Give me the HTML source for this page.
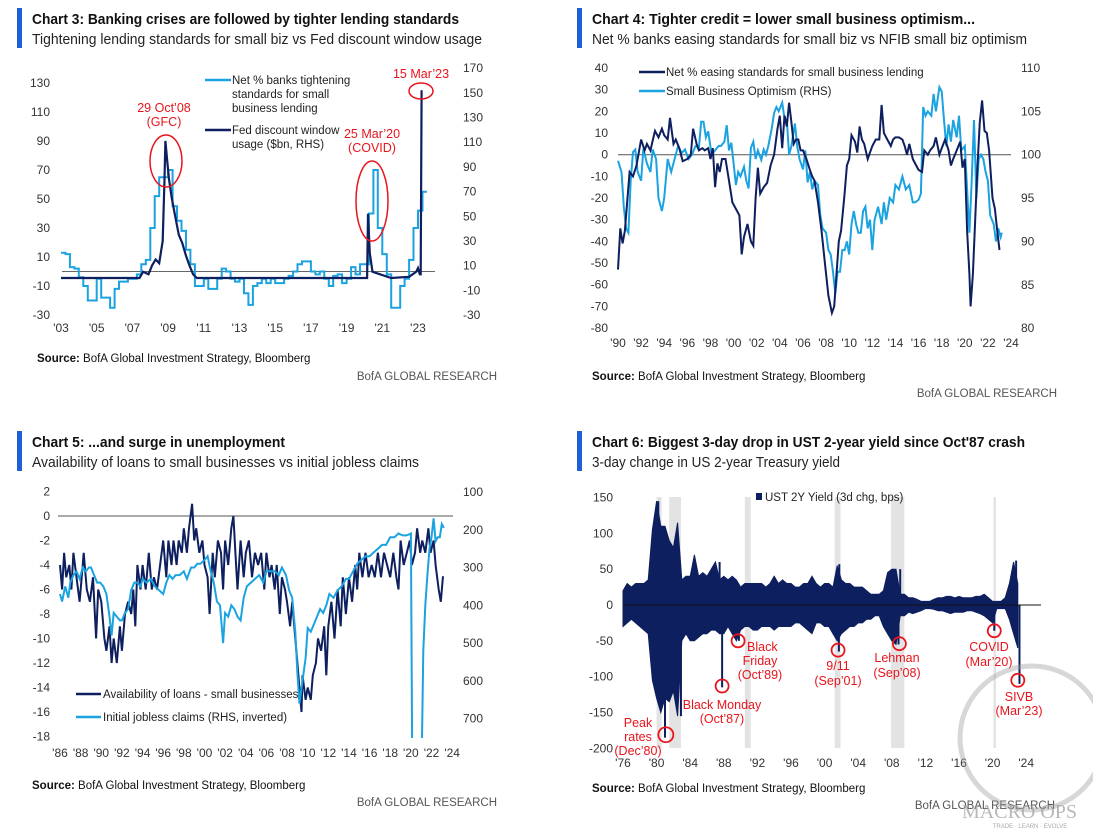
<!DOCTYPE html>
<html><head><meta charset="utf-8"><title>BofA charts 3-6</title>
<style>
html,body{margin:0;padding:0;background:#fff;}
svg{display:block;font-family:"Liberation Sans Narrow","Liberation Sans",sans-serif;}
</style></head>
<body>
<svg id="chart" width="1093" height="830" viewBox="0 0 1093 830" xmlns="http://www.w3.org/2000/svg">
<defs>
<clipPath id="clip3"><rect x="55" y="55" width="400" height="265"/></clipPath>
<clipPath id="clip4"><rect x="612" y="60" width="405" height="275"/></clipPath>
<clipPath id="clip5"><rect x="55" y="484" width="402" height="254"/></clipPath>
</defs>
<rect x="0" y="0" width="1093" height="830" fill="#fff"/>

<rect x="17" y="8" width="5" height="40" fill="#1f5fd6"/>
<text x="32" y="24" font-size="15" font-weight="bold" fill="#111" textLength="427" lengthAdjust="spacingAndGlyphs">Chart 3: Banking crises are followed by tighter lending standards</text>
<text x="32" y="44" font-size="15" fill="#222" textLength="450" lengthAdjust="spacingAndGlyphs">Tightening lending standards for small biz vs Fed discount window usage</text>
<text x="37" y="362" font-size="11.5" fill="#111"><tspan font-weight="bold">Source:</tspan> BofA Global Investment Strategy, Bloomberg</text>
<text x="497" y="380" font-size="11.5" fill="#555" text-anchor="end">BofA GLOBAL RESEARCH</text>

<rect x="577" y="8" width="5" height="40" fill="#1f5fd6"/>
<text x="592" y="24" font-size="15" font-weight="bold" fill="#111" textLength="383" lengthAdjust="spacingAndGlyphs">Chart 4: Tighter credit = lower small business optimism...</text>
<text x="592" y="44" font-size="15" fill="#222" textLength="435" lengthAdjust="spacingAndGlyphs">Net % banks easing standards for small biz vs NFIB small biz optimism</text>
<text x="592" y="380" font-size="11.5" fill="#111"><tspan font-weight="bold">Source:</tspan> BofA Global Investment Strategy, Bloomberg</text>
<text x="1057" y="397" font-size="11.5" fill="#555" text-anchor="end">BofA GLOBAL RESEARCH</text>

<rect x="17" y="431" width="5" height="40" fill="#1f5fd6"/>
<text x="32" y="447" font-size="15" font-weight="bold" fill="#111" textLength="253" lengthAdjust="spacingAndGlyphs">Chart 5: ...and surge in unemployment</text>
<text x="32" y="467" font-size="15" fill="#222" textLength="387" lengthAdjust="spacingAndGlyphs">Availability of loans to small businesses vs initial jobless claims</text>
<text x="32" y="789" font-size="11.5" fill="#111"><tspan font-weight="bold">Source:</tspan> BofA Global Investment Strategy, Bloomberg</text>
<text x="497" y="806" font-size="11.5" fill="#555" text-anchor="end">BofA GLOBAL RESEARCH</text>

<rect x="577" y="431" width="5" height="40" fill="#1f5fd6"/>
<text x="592" y="447" font-size="15" font-weight="bold" fill="#111" textLength="433" lengthAdjust="spacingAndGlyphs">Chart 6: Biggest 3-day drop in UST 2-year yield since Oct'87 crash</text>
<text x="592" y="467" font-size="15" fill="#222" textLength="248" lengthAdjust="spacingAndGlyphs">3-day change in US 2-year Treasury yield</text>
<text x="592" y="792" font-size="11.5" fill="#111"><tspan font-weight="bold">Source:</tspan> BofA Global Investment Strategy, Bloomberg</text>
<text x="1055" y="809" font-size="11.5" fill="#555" text-anchor="end">BofA GLOBAL RESEARCH</text>

<g id="layer"></g>
</svg>
<script>
// ---------------- DATA: Chart 3 ----------------
const c3LightStart = 2003;
const c3LightQuarterly = [13,12,3,2, -4,-10,-20,-20, -5,-18,-18,-25, -12,-7,-7,-5, -5,-2,5,8, 30,52,65,65, 70,45,35,28, 15,5,-10,-10, -5,-12,-12,-5, 2,0,-5,-7, -5,-15,-23,-10, -8,-5,-8,-5, -8,-8,-5,-3, 0,5,7,7, 0,-2,0,-5, -10,-3,-2,-8, -5,3,-2,5, 5,40,70,30, 12,-2,-25,-25, -10,-5,8,30, 42,55];
const c3DarkYears = [2003,2007.4,2007.6,2007.9,2008.1,2008.3,2008.5,2008.7,2008.8,2008.85,2008.95,2009.05,2009.2,2009.4,2009.6,2009.8,2010.0,2010.2,2010.4,2010.6,2020.15,2020.2,2020.3,2020.45,2021.5,2022.5,2022.9,2023.0,2023.1,2023.15,2023.2];
const c3DarkVals = [0,0,5,3,10,15,12,30,80,111,95,80,65,50,35,28,18,10,3,0,0,52,20,5,0,1,5,8,3,3,152];
const c3LeftTicks = [130,110,90,70,50,30,10,-10,-30];
const c3RightTicks = [170,150,130,110,90,70,50,30,10,-10,-30];
const c3XTickYears = [2003,2005,2007,2009,2011,2013,2015,2017,2019,2021,2023];
const c3XTickLabels = ["'03","'05","'07","'09","'11","'13","'15","'17","'19","'21","'23"];

// ---------------- DATA: Chart 4 ----------------
const c4DarkYears = [1990.0,1990.2,1990.4,1990.6,1991.0,1991.3,1991.6,1992.0,1992.3,1992.5,1992.8,1993.2,1993.5,1993.8,1994.0,1994.3,1994.5,1994.8,1995.0,1995.3,1995.6,1996.0,1996.3,1996.5,1996.8,1997.0,1997.3,1997.5,1997.8,1998.0,1998.2,1998.4,1998.6,1998.8,1999.0,1999.3,1999.6,1999.9,2000.2,2000.5,2000.7,2000.9,2001.2,2001.5,2001.7,2001.9,2002.1,2002.3,2002.6,2002.9,2003.2,2003.5,2003.8,2004.0,2004.2,2004.4,2004.6,2004.8,2005.0,2005.2,2005.4,2005.6,2005.8,2006.0,2006.3,2006.6,2006.8,2007.0,2007.3,2007.6,2007.9,2008.2,2008.5,2008.7,2008.9,2009.1,2009.3,2009.6,2009.8,2010.0,2010.2,2010.5,2010.7,2010.9,2011.1,2011.3,2011.6,2011.8,2012.0,2012.3,2012.6,2012.8,2013.0,2013.3,2013.6,2013.8,2014.0,2014.3,2014.6,2014.8,2015.0,2015.2,2015.5,2015.8,2016.0,2016.3,2016.5,2016.8,2017.0,2017.3,2017.5,2017.8,2018.0,2018.3,2018.6,2018.8,2019.0,2019.3,2019.6,2019.8,2020.0,2020.2,2020.4,2020.5,2020.7,2020.9,2021.1,2021.3,2021.5,2021.7,2021.9,2022.1,2022.4,2022.6,2022.8,2023.0];
const c4DarkVals = [-53,-34,-41,-35,-8,-10,-5,7,2,5,2,11,8,12,9,7,17,5,7,3,-3,-2,0,12,5,2,3,2,3,-2,3,-15,-4,-8,-2,-2,-12,-22,-25,-28,-46,-38,-32,-40,-42,-20,-6,-18,-15,-13,-5,0,12,18,3,18,13,24,15,5,7,7,2,2,-2,-7,-10,-12,-22,-35,-50,-65,-73,-70,-55,-40,-35,-18,-5,-2,9,6,1,13,7,5,-2,1,4,7,7,23,10,7,4,7,8,8,7,4,0,5,-2,-5,-7,-8,2,0,2,4,8,0,3,7,2,-5,-2,2,6,-6,-2,-35,-55,-70,-55,-30,-5,15,25,11,10,2,-20,-25,-35,-44];
const c4LightYears = [1990.0,1990.3,1990.5,1990.7,1990.9,1991.1,1991.3,1991.5,1991.7,1992.0,1992.2,1992.5,1992.8,1993.0,1993.3,1993.5,1993.8,1994.0,1994.3,1994.6,1994.9,1995.2,1995.5,1995.8,1996.1,1996.4,1996.7,1997.0,1997.2,1997.4,1997.6,1997.8,1998.1,1998.4,1998.7,1998.9,1999.2,1999.4,1999.6,1999.8,2000.0,2000.2,2000.4,2000.6,2000.9,2001.1,2001.3,2001.5,2001.7,2001.9,2002.1,2002.4,2002.6,2002.8,2003.0,2003.3,2003.5,2003.7,2003.9,2004.2,2004.4,2004.6,2004.8,2005.0,2005.3,2005.5,2005.7,2006.0,2006.2,2006.4,2006.6,2006.8,2007.0,2007.3,2007.5,2007.7,2008.0,2008.2,2008.4,2008.6,2008.8,2009.0,2009.2,2009.4,2009.6,2009.8,2010.0,2010.2,2010.4,2010.6,2010.8,2011.0,2011.2,2011.4,2011.6,2011.8,2012.0,2012.2,2012.5,2012.8,2013.0,2013.2,2013.5,2013.8,2014.0,2014.3,2014.6,2014.9,2015.2,2015.5,2015.7,2016.0,2016.2,2016.4,2016.6,2016.8,2017.1,2017.3,2017.5,2017.8,2018.0,2018.2,2018.4,2018.6,2018.8,2019.0,2019.3,2019.5,2019.7,2020.0,2020.2,2020.4,2020.6,2020.8,2021.0,2021.2,2021.4,2021.6,2021.8,2022.0,2022.2,2022.5,2022.7,2022.9,2023.1,2023.2];
const c4LightVals = [99.3,98,94,91.5,91,97,100.3,100.6,98,97,100.7,99,98,100.6,99.5,95,93.5,95,99.5,98,99.5,101,100.2,100.6,99.5,100,101,100.8,103.8,103.8,102,102.7,100,100.5,101,101,101.5,103.4,100.5,101.4,99,96.5,98,97.5,98.6,97,96.1,100.8,101.5,99.5,100.5,99.4,100.6,100,101,103,104.8,105.5,105,106,104.2,104,100,101,103.6,101,99.5,98.3,100.5,96.8,98,96,97,96.5,93,91.5,91,89,88.5,86.5,84,86.5,86.5,89,89,90,88.5,92,93.5,92,91,91,93.5,94,91.5,92.5,89,92.5,94,92,94.5,92.5,95,94.5,96.5,96,97.5,96,96.5,94.5,94.5,94.8,95.5,105.5,104.5,105,104.5,107,105,107.8,107.3,104,101,103.5,101.5,104,102,104.5,100.5,101,96,91,97,104,95,99.5,100,99.5,98,97,93,92,90,91.5,90.5,91];
const c4LeftTicks = [40,30,20,10,0,-10,-20,-30,-40,-50,-60,-70,-80];
const c4RightTicks = [110,105,100,95,90,85,80];
const c4XTickYears = [1990,1992,1994,1996,1998,2000,2002,2004,2006,2008,2010,2012,2014,2016,2018,2020,2022,2024];
const c4XTickLabels = ["'90","'92","'94","'96","'98","'00","'02","'04","'06","'08","'10","'12","'14","'16","'18","'20","'22","'24"];

// ---------------- DATA: Chart 5 ----------------
const c5DarkYears = [1986.0,1986.2,1986.4,1986.6,1986.9,1987.1,1987.3,1987.6,1987.9,1988.1,1988.3,1988.6,1988.9,1989.2,1989.5,1989.7,1990.0,1990.3,1990.5,1990.8,1991.0,1991.2,1991.5,1991.8,1992.0,1992.3,1992.6,1992.9,1993.1,1993.3,1993.5,1993.8,1994.0,1994.3,1994.6,1994.9,1995.1,1995.4,1995.7,1996.0,1996.3,1996.5,1996.8,1997.0,1997.3,1997.5,1997.8,1998.0,1998.3,1998.5,1998.8,1999.0,1999.2,1999.5,1999.8,2000.0,2000.3,2000.5,2000.8,2001.0,2001.3,2001.6,2001.8,2002.0,2002.3,2002.6,2002.8,2003.0,2003.2,2003.5,2003.8,2004.0,2004.3,2004.6,2004.9,2005.2,2005.5,2005.8,2006.0,2006.3,2006.5,2006.8,2007.0,2007.3,2007.5,2007.8,2008.0,2008.3,2008.5,2008.8,2009.0,2009.2,2009.4,2009.5,2009.8,2010.0,2010.3,2010.5,2010.8,2011.0,2011.3,2011.6,2011.8,2012.0,2012.3,2012.6,2012.9,2013.2,2013.4,2013.7,2014.0,2014.3,2014.6,2014.8,2015.0,2015.3,2015.6,2015.9,2016.2,2016.5,2016.8,2017.1,2017.4,2017.7,2018.0,2018.3,2018.6,2018.8,2019.0,2019.3,2019.6,2019.9,2020.1,2020.4,2020.6,2020.9,2021.1,2021.4,2021.7,2021.9,2022.2,2022.4,2022.7,2022.9,2023.1,2023.2];
const c5DarkVals = [-4,-6,-3,-5,-4,-6,-3,-5,-7,-5,-3,-6,-7,-5,-10,-6,-7,-10,-11,-9,-12,-10,-12,-9,-11,-8,-7,-8,-6,-9,-4,-6,-4,-6,-3,-6,-5,-6,-4,-2,-5,-2,-4,-2,-4,-2,-3,-1,-3,-1,1,-2,-1,-3,-2,-4,-5,-8,-3,-5,-2,-3,-6,-2,-4,-1,0,-3,-6,-2,-5,-3,-2,-5,-3,-4,-3,-6,-3,-5,-4,-6,-4,-8,-5,-6,-7,-9,-7,-10,-12,-14,-16,-13,-15,-14,-15,-13,-12,-10,-11,-9,-13,-9,-7,-10,-6,-9,-5,-8,-5,-7,-4,-6,-3,-5,-3,-5,-4,-5,-3,-5,-3,-4,-5,-3,-5,-6,-2,-4,-3,-2,-4,-3,-1,-3,-2,-3,-1,-3,-2,-4,-6,-7,-5,-5];
const c5LightYears = [1986.0,1986.2,1986.5,1986.8,1987.0,1987.3,1987.6,1987.9,1988.2,1988.5,1988.8,1989.0,1989.3,1989.6,1989.9,1990.2,1990.5,1990.8,1991.0,1991.2,1991.5,1991.8,1992.0,1992.3,1992.6,1992.9,1993.2,1993.5,1993.8,1994.0,1994.4,1994.8,1995.2,1995.6,1996.0,1996.3,1996.6,1996.9,1997.2,1997.6,1998.0,1998.3,1998.7,1999.0,1999.3,1999.6,2000.0,2000.3,2000.6,2000.9,2001.2,2001.5,2001.8,2002.0,2002.3,2002.6,2002.9,2003.2,2003.5,2003.8,2004.1,2004.5,2004.9,2005.3,2005.7,2006.0,2006.4,2006.8,2007.2,2007.5,2007.9,2008.2,2008.5,2008.8,2009.0,2009.2,2009.5,2009.8,2010.0,2010.3,2010.6,2010.9,2011.2,2011.5,2011.8,2012.1,2012.5,2012.9,2013.3,2013.7,2014.0,2014.4,2014.8,2015.2,2015.6,2016.0,2016.4,2016.8,2017.2,2017.6,2018.0,2018.4,2018.8,2019.2,2019.6,2020.0,2020.15,2020.6,2021.0,2021.2,2021.4,2021.6,2021.8,2022.0,2022.2,2022.4,2022.6,2022.8,2023.0,2023.2];
const c5LightVals = [370,390,350,380,340,320,310,330,300,310,300,300,320,340,340,350,370,430,480,420,430,440,440,420,410,360,340,340,350,330,340,330,350,360,370,340,320,330,320,320,310,330,300,300,290,290,280,270,310,340,390,400,500,420,430,400,410,430,440,380,350,340,330,320,340,310,310,310,320,300,320,360,380,470,580,660,600,540,460,470,450,430,410,420,400,370,380,360,350,330,330,310,290,280,270,270,260,250,240,240,220,220,210,215,215,210,900,900,900,520,400,320,250,220,170,230,220,220,185,195];
const c5LeftTicks = [2,0,-2,-4,-6,-8,-10,-12,-14,-16,-18];
const c5RightTicks = [100,200,300,400,500,600,700];
const c5XTickYears = [1986,1988,1990,1992,1994,1996,1998,2000,2002,2004,2006,2008,2010,2012,2014,2016,2018,2020,2022,2024];
const c5XTickLabels = ["'86","'88","'90","'92","'94","'96","'98","'00","'02","'04","'06","'08","'10","'12","'14","'16","'18","'20","'22","'24"];

// ---------------- DATA: Chart 6 ----------------
const c6Start = 1976;
const c6HalfHigh = [20,30,25,30,30,30,35,105,145,110,110,90,80,115,35,40,40,70,40,45,40,50,60,35,40,35,40,35,25,30,30,30,30,30,25,30,40,30,35,30,30,25,25,30,30,40,30,25,30,30,25,55,35,30,30,25,25,25,20,15,15,15,20,45,50,50,15,15,10,10,8,5,5,5,8,10,10,12,12,10,12,10,10,10,12,12,15,10,5,5,5,10,30,60,30];
const c6HalfLow = [-30,-25,-20,-25,-30,-35,-40,-105,-130,-150,-130,-135,-120,-155,-50,-40,-50,-50,-45,-40,-40,-35,-35,-40,-40,-30,-40,-50,-35,-30,-30,-35,-35,-30,-30,-30,-35,-30,-30,-30,-30,-25,-25,-30,-35,-40,-25,-25,-30,-30,-40,-50,-40,-35,-30,-30,-25,-25,-20,-20,-15,-15,-30,-40,-50,-55,-15,-15,-10,-12,-10,-8,-5,-5,-6,-8,-8,-10,-12,-10,-10,-10,-8,-8,-10,-12,-15,-20,-25,-5,-5,-5,-20,-40,-60];
const c6SpikeYears = [1980.2,1981.0,1982.9,1987.8,1987.5,1989.8,2001.7,2001.75,2008.8,2009.0,2020.2,2022.8,2023.2];
const c6SpikeVals = [145,-185,-155,-115,60,-50,-65,57,-55,50,-36,62,-110];
const c6BandStart = [1980.0,1981.5,1990.5,2001.2,2007.9,2020.1];
const c6BandEnd = [1980.6,1982.9,1991.2,2001.9,2009.5,2020.4];
const c6EventYears = [1981.1,1987.8,1989.7,2001.6,2008.9,2020.2,2023.0];
const c6EventVals = [-181,-113,-50,-63,-54,-36,-105];
const c6Ticks = [150,100,50,0,-50,-100,-150,-200];
const c6XTickYears = [1976,1980,1984,1988,1992,1996,2000,2004,2008,2012,2016,2020,2024];
const c6XTickLabels = ["'76","'80","'84","'88","'92","'96","'00","'04","'08","'12","'16","'20","'24"];

// ---------------- helpers ----------------
const NS = 'http://www.w3.org/2000/svg';
const layer = document.getElementById('layer');
const DARK = '#0d1f5e', LIGHT = '#1aa3e0', RED = '#e8141c', TICK = '#333';
function mk(tag, attrs, parent) {
  const e = document.createElementNS(NS, tag);
  for (const k in attrs) e.setAttribute(k, attrs[k]);
  (parent || layer).appendChild(e);
  return e;
}
function tx(x, y, s, size, anchor, fill, parent) {
  const t = mk('text', {x: x, y: y, 'font-size': size, 'text-anchor': anchor || 'start', fill: fill || TICK}, parent);
  t.textContent = s;
  return t;
}
function pts(xs, ys, fx, fy) { return xs.map((v, i) => fx(v).toFixed(1) + ',' + fy(ys[i]).toFixed(1)).join(' '); }

// ---------------- Chart 3 ----------------
const x3 = yr => 61 + (yr - 2003) * 17.85;
const yL3 = v => 271.5 - v * 1.45;
const yR3 = v => 278 - v * 1.235;
const g3 = mk('g', {});


c3LeftTicks.forEach(v => {
  const t = tx(50, yL3(v) + 4, String(v), 12, 'end', TICK, g3);
  
  
});
c3RightTicks.forEach(v => {
  const t = tx(463, yR3(v) + 4, String(v), 12, 'start', TICK, g3);
  
  
});
c3XTickYears.forEach((yr, i) => {
  const t = tx(x3(yr), 332, c3XTickLabels[i], 12, 'middle', TICK, g3);
  
  
});
const z3 = mk('line', {x1: 62, x2: 435, y1: yL3(0), y2: yL3(0), stroke: '#666', 'stroke-width': 1}, g3);


(function () {
  let d = '';
  c3LightQuarterly.forEach((v, i) => {
    const xa = x3(c3LightStart + i * 0.25), xb = x3(c3LightStart + (i + 1) * 0.25);
    d += (i === 0 ? 'M' : 'L') + xa.toFixed(1) + ',' + yL3(v).toFixed(1) + ' L' + xb.toFixed(1) + ',' + yL3(v).toFixed(1) + ' ';
  });
  const p = mk('path', {d: d, fill: 'none', stroke: LIGHT, 'stroke-width': 2, 'clip-path': 'url(#clip3)'}, g3);
  
  
})();
const d3 = mk('polyline', {points: pts(c3DarkYears, c3DarkVals, x3, yR3), fill: 'none', stroke: DARK, 'stroke-width': 2.2, 'clip-path': 'url(#clip3)'}, g3);


const l3a = mk('line', {x1: 205, x2: 231, y1: 80, y2: 80, stroke: LIGHT, 'stroke-width': 2.5}, g3);


[['Net % banks tightening', 84], ['standards for small', 98], ['business lending', 112]].forEach(a => {
  const t = tx(232, a[1], a[0], 11.5, 'start', '#222', g3);
  
  
});
const l3b = mk('line', {x1: 205, x2: 231, y1: 130, y2: 130, stroke: DARK, 'stroke-width': 2.5}, g3);


[['Fed discount window', 134], ['usage ($bn, RHS)', 148]].forEach(a => {
  const t = tx(232, a[1], a[0], 11.5, 'start', '#222', g3);
  
  
});
[['29 Oct\u201908', 164, 112], ['(GFC)', 164, 126], ['25 Mar\u201920', 372, 138], ['(COVID)', 372, 152], ['15 Mar\u201923', 421, 78]].forEach(a => {
  const t = tx(a[1], a[2], a[0], 12.5, 'middle', RED, g3);
  
  
});
[[166, 161, 16, 26], [372, 201, 16, 40], [421, 91, 12, 8]].forEach(a => {
  const e = mk('ellipse', {cx: a[0], cy: a[1], rx: a[2], ry: a[3], fill: 'none', stroke: RED, 'stroke-width': 1.5}, g3);
  
  
});

// ---------------- Chart 4 ----------------
const x4 = yr => 618 + (yr - 1990) * 11.56;
const yL4 = v => 154.7 - v * 2.167;
const yR4 = v => 154.7 - (v - 100) * 8.67;
const g4 = mk('g', {});


c4LeftTicks.forEach(v => {
  const t = tx(608, yL4(v) + 4, String(v), 12, 'end', TICK, g4);
  
  
});
c4RightTicks.forEach(v => {
  const t = tx(1021, yR4(v) + 4, String(v), 12, 'start', TICK, g4);
  
  
});
c4XTickYears.forEach((yr, i) => {
  const t = tx(x4(yr), 347, c4XTickLabels[i], 12, 'middle', TICK, g4);
  
  
});
const z4 = mk('line', {x1: 618, x2: 1011, y1: yL4(0), y2: yL4(0), stroke: '#555', 'stroke-width': 1}, g4);


const p4l = mk('polyline', {points: pts(c4LightYears, c4LightVals, x4, yR4), fill: 'none', stroke: LIGHT, 'stroke-width': 2, 'clip-path': 'url(#clip4)'}, g4);


const p4d = mk('polyline', {points: pts(c4DarkYears, c4DarkVals, x4, yL4), fill: 'none', stroke: DARK, 'stroke-width': 2, 'clip-path': 'url(#clip4)'}, g4);


const l4a = mk('line', {x1: 639, x2: 665, y1: 72, y2: 72, stroke: DARK, 'stroke-width': 2.5}, g4);


const t4a = tx(666, 76, 'Net % easing standards for small business lending', 11.5, 'start', '#222', g4);


const l4b = mk('line', {x1: 639, x2: 665, y1: 91, y2: 91, stroke: LIGHT, 'stroke-width': 2.5}, g4);


const t4b = tx(666, 95, 'Small Business Optimism (RHS)', 11.5, 'start', '#222', g4);



// ---------------- Chart 5 ----------------
const x5 = yr => 60 + (yr - 1986) * 10.32;
const yL5 = v => 516 - v * 12.25;
const yR5 = v => 492 + (v - 100) * 0.3777;
const g5 = mk('g', {});


c5LeftTicks.forEach(v => {
  const t = tx(50, yL5(v) + 4, String(v), 12, 'end', TICK, g5);
  
  
});
c5RightTicks.forEach(v => {
  const t = tx(463, yR5(v) + 4, String(v), 12, 'start', TICK, g5);
  
  
});
c5XTickYears.forEach((yr, i) => {
  const t = tx(x5(yr), 757, c5XTickLabels[i], 12, 'middle', TICK, g5);
  
  
});
const z5 = mk('line', {x1: 58, x2: 453, y1: yL5(0), y2: yL5(0), stroke: '#555', 'stroke-width': 1}, g5);


const p5d = mk('polyline', {points: pts(c5DarkYears, c5DarkVals, x5, yL5), fill: 'none', stroke: DARK, 'stroke-width': 2, 'clip-path': 'url(#clip5)'}, g5);


const p5l = mk('polyline', {points: pts(c5LightYears, c5LightVals, x5, yR5), fill: 'none', stroke: LIGHT, 'stroke-width': 2, 'clip-path': 'url(#clip5)'}, g5);


const l5a = mk('line', {x1: 76, x2: 101, y1: 694, y2: 694, stroke: DARK, 'stroke-width': 2.5}, g5);


const t5a = tx(103, 698, 'Availability of loans - small businesses', 11.5, 'start', '#222', g5);


const l5b = mk('line', {x1: 76, x2: 101, y1: 717, y2: 717, stroke: LIGHT, 'stroke-width': 2.5}, g5);


const t5b = tx(103, 721, 'Initial jobless claims (RHS, inverted)', 11.5, 'start', '#222', g5);



// ---------------- Chart 6 ----------------
const x6 = yr => 623 + (yr - 1976) * 8.4;
const y6 = v => 605 - v * 0.7167;
const g6 = mk('g', {});


c6BandStart.forEach((s, i) => {
  const r = mk('rect', {x: x6(s), y: 497, width: x6(c6BandEnd[i]) - x6(s), height: 251, fill: '#e3e3e3'}, g6);
  
  
});
c6Ticks.forEach(v => {
  const t = tx(613, y6(v) + 4, String(v), 12, 'end', TICK, g6);
  
  
});
c6XTickYears.forEach((yr, i) => {
  const t = tx(x6(yr), 767, c6XTickLabels[i], 12, 'middle', TICK, g6);
  
  
});
(function () {
  const up = c6HalfHigh.map((v, i) => x6(c6Start + i * 0.5).toFixed(1) + ',' + y6(v).toFixed(1));
  const dn = c6HalfLow.map((v, i) => x6(c6Start + i * 0.5).toFixed(1) + ',' + y6(v).toFixed(1)).reverse();
  const p = mk('polygon', {points: up.concat(dn).join(' '), fill: DARK, stroke: DARK, 'stroke-width': 1, 'stroke-linejoin': 'miter'}, g6);
  
  
})();
c6SpikeYears.forEach((yr, i) => {
  const s = mk('line', {x1: x6(yr), x2: x6(yr), y1: y6(0), y2: y6(c6SpikeVals[i]), stroke: DARK, 'stroke-width': 2}, g6);
  
  
});
const z6 = mk('line', {x1: 623, x2: 1041, y1: y6(0), y2: y6(0), stroke: '#111', 'stroke-width': 1}, g6);


const sw6 = mk('rect', {x: 756, y: 493, width: 6, height: 7, fill: DARK}, g6);


const t6 = tx(765, 501, 'UST 2Y Yield (3d chg, bps)', 11.5, 'start', '#222', g6);


c6EventYears.forEach((yr, i) => {
  const c = mk('circle', {cx: x6(yr), cy: y6(c6EventVals[i]), r: i === 0 ? 7.5 : 6.5, fill: 'none', stroke: RED, 'stroke-width': 1.8}, g6);
  
  
});
[['Peak', 638, 727, 'middle'], ['rates', 638, 741, 'middle'], ['(Dec\u201980)', 638, 755, 'middle'],
 ['Black Monday', 722, 709, 'middle'], ['(Oct\u201987)', 722, 723, 'middle'],
 ['Black', 747, 651, 'start'], ['Friday', 760, 665, 'middle'], ['(Oct\u201989)', 760, 679, 'middle'],
 ['9/11', 838, 670, 'middle'], ['(Sep\u201901)', 838, 685, 'middle'],
 ['Lehman', 897, 662, 'middle'], ['(Sep\u201908)', 897, 677, 'middle'],
 ['COVID', 989, 651, 'middle'], ['(Mar\u201920)', 989, 666, 'middle'],
 ['SIVB', 1019, 701, 'middle'], ['(Mar\u201923)', 1019, 715, 'middle']].forEach(a => {
  const t = tx(a[1], a[2], a[0], 12.5, a[3], RED, g6);
  
  
});

const wm = mk('circle', {cx: 1032, cy: 738, r: 72, fill: 'none', stroke: '#9a9a9a', 'stroke-width': 5, 'stroke-opacity': 0.4});


const wmt = tx(962, 818, 'MACRO OPS', 20, 'start', '#a0a0a0');
wmt.setAttribute('font-family', 'Liberation Serif, serif');
wmt.setAttribute('fill-opacity', '0.75');


const wms = tx(1030, 828, 'TRADE · LEARN · EVOLVE', 6, 'middle', '#aaa');


</script>
</body></html>
